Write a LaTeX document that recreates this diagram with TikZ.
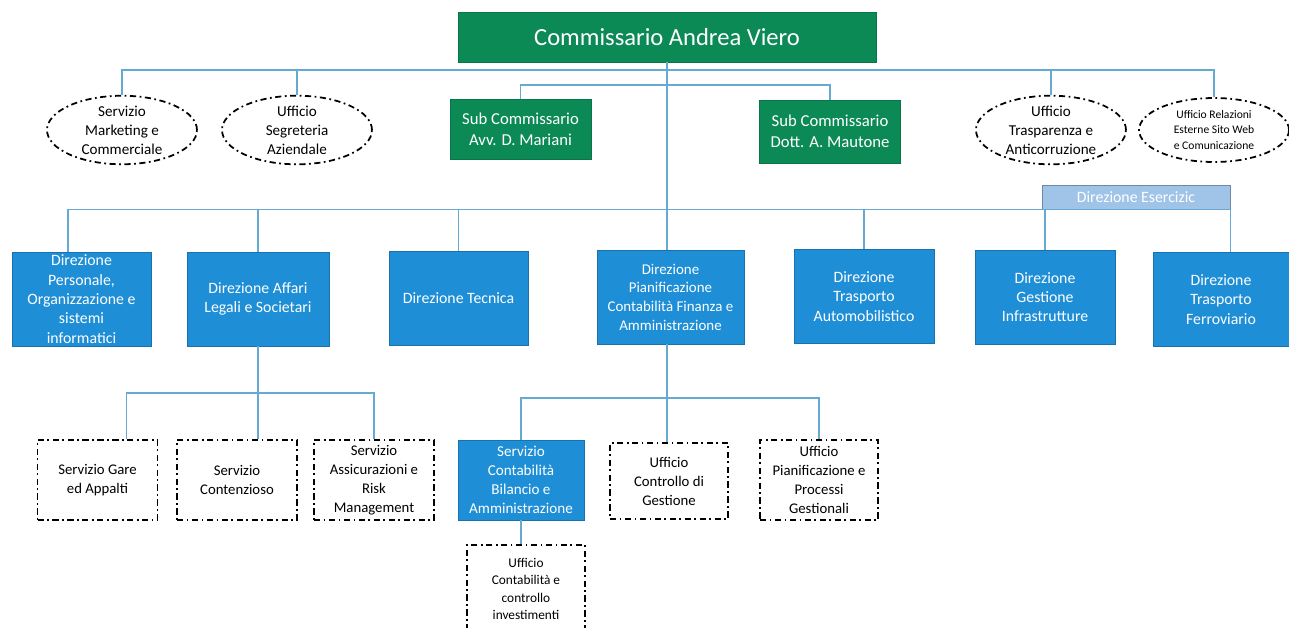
\documentclass[tikz,border=0pt]{standalone}
\usepackage{fontspec}
\setmainfont{Carlito}
\usepackage{xcolor}
\usepackage{tikz}
\usetikzlibrary{shapes.geometric}

\definecolor{chiefgreen}{RGB}{12,138,86}
\definecolor{dirblue}{RGB}{30,142,214}
\definecolor{paleblue}{RGB}{160,196,232}
\definecolor{linkblue}{RGB}{100,170,210}

\tikzset{
  link/.style={draw=linkblue, line width=0.6pt},
  dotdashed/.style={dash pattern=on 3.5pt off 2pt on 1pt off 2pt, line width=1pt},
  greenbox/.style={fill=chiefgreen, draw=chiefgreen!85!black, text=white, align=center,
    inner sep=1pt, font=\fontsize{9.5}{12}\selectfont, minimum width=2.82cm, minimum height=1.2cm},
  dirbox/.style={fill=dirblue, draw=dirblue!80!black, text=white, align=center, inner sep=1pt,
    font=\fontsize{9}{11}\selectfont, minimum width=2.8cm, minimum height=1.88cm},
  staffoval/.style={ellipse, draw, dotdashed, align=center, inner sep=0pt,
    font=\fontsize{8.6}{10.8}\selectfont, minimum width=3cm, minimum height=1.28cm},
  officebox/.style={draw, dotdashed, align=center, inner sep=1pt,
    font=\fontsize{8.4}{10.8}\selectfont, minimum width=2.4cm, minimum height=1.6cm}
}

\begin{document}
\begin{tikzpicture}[x=0.02cm, y=-0.02cm]
\useasboundingbox[fill=white] (0,0) rectangle (1289,627);

% vertice
\node[greenbox, minimum width=8.36cm, minimum height=1cm, font=\fontsize{14}{16}\selectfont] (chief) at (667,37) {Commissario Andrea Viero};

% staff
\node[staffoval] (mkt) at (122,130) {Servizio\\Marketing e\\Commerciale};
\node[staffoval] (segr) at (297,130) {Ufficio\\Segreteria\\Aziendale};
\node[staffoval] (trasp) at (1051,130) {Ufficio\\Trasparenza e\\Anticorruzione};
\node[staffoval, font=\fontsize{6.6}{8.6}\selectfont] (rel) at (1214,130) {Ufficio Relazioni\\Esterne Sito Web\\e Comunicazione};

\node[greenbox] (sub1) at (520.5,129.5) {Sub Commissario\\Avv. D. Mariani};
\node[greenbox, minimum height=1.26cm] (sub2) at (830,131.5) {Sub Commissario\\Dott. A. Mautone};

% direzioni
\node[fill=paleblue, draw=paleblue!70!black, text=white, minimum width=3.76cm, minimum height=0.48cm,
  inner sep=0pt, font=\fontsize{9}{11}\selectfont] (eserc) at (1136,197) {Direzione Esercizic};

\node[dirbox, minimum width=2.78cm] (d1) at (81.5,299) {Direzione\\Personale,\\Organizzazione e\\sistemi\\informatici};
\node[dirbox, minimum width=2.84cm] (d2) at (258,299) {Direzione Affari\\Legali e Societari};
\node[dirbox, minimum width=2.78cm] (d3) at (458.5,298) {Direzione Tecnica};
\node[dirbox, minimum width=2.94cm, font=\fontsize{8.5}{10.6}\selectfont] (d4) at (670.5,297) {Direzione\\Pianificazione\\Contabilità Finanza e\\Amministrazione};
\node[dirbox] (d5) at (864,296.5) {Direzione\\Trasporto\\Automobilistico};
\node[dirbox] (d6) at (1045,297) {Direzione\\Gestione\\Infrastrutture};
\node[dirbox, minimum width=2.72cm] (d7) at (1221,299.5) {Direzione\\Trasporto\\Ferroviario};

% servizi e uffici
\node[officebox] (gare) at (97.5,480) {Servizio Gare\\ed Appalti};
\node[officebox] (cont) at (237,480) {Servizio\\Contenzioso};
\node[officebox] (assic) at (374,480) {Servizio\\Assicurazioni e\\Risk\\Management};

\node[dirbox, minimum width=2.52cm, minimum height=1.6cm, font=\fontsize{8.6}{10.8}\selectfont] (bil) at (521,480) {Servizio\\Contabilità\\Bilancio e\\Amministrazione};
\node[officebox, minimum width=2.36cm, minimum height=1.52cm] (ctrl) at (669,481) {Ufficio\\Controllo di\\Gestione};
\node[officebox, minimum width=2.36cm] (pian) at (819,480) {Ufficio\\Pianificazione e\\Processi\\Gestionali};
\node[officebox, minimum width=2.36cm, minimum height=1.76cm, font=\fontsize{7.6}{9.8}\selectfont] (invest) at (526,589) {Ufficio\\Contabilità e\\controllo\\investimenti};

% collegamenti
\coordinate (bus1) at (0,70);
\coordinate (bus2) at (0,85);
\coordinate (bus3) at (0,393);
\coordinate (bus4) at (0,398);

\foreach \n in {mkt,segr,trasp,rel}
  \draw[link] (\n.north) |- (chief.south |- bus1);
\foreach \n in {sub1,sub2}
  \draw[link] (\n.north) |- (chief.south |- bus2);

\draw[link] (chief.south) -- (chief.south |- d4.north);
\draw[link] ([xshift=-0.27cm]d1.north) |- (eserc.south east) -- (eserc.south east |- d7.north);
\foreach \n in {d2,d3,d5,d6}
  \draw[link] (\n.north) -- (\n.north |- eserc.south);

\draw[link] (d2.south) -- (d2.south |- cont.north);
\draw[link] ([xshift=0.58cm]gare.north) |- (assic.north |- bus3) -- (assic.north);

\draw[link] (chief.south |- d4.south) -- (chief.south |- ctrl.north);
\draw[link] (bil.north) |- (pian.north |- bus4) -- (pian.north);
\draw[link] (bil.south) -- (bil.south |- invest.north);
\end{tikzpicture}
\end{document}
